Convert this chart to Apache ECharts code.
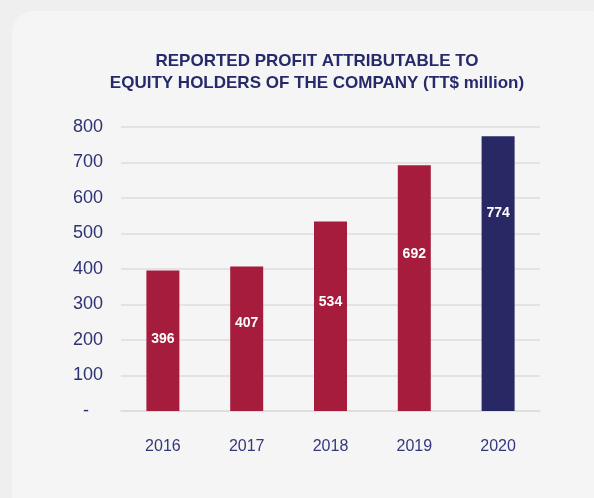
<!DOCTYPE html>
<html>
<head>
<meta charset="utf-8">
<script src="https://cdn.jsdelivr.net/npm/echarts@6/dist/echarts.min.js"></script>
<style>
  html, body { margin: 0; padding: 0; background: #efefef; }
  #card { position: absolute; left: 12px; top: 11px; width: 600px; height: 520px; background: #f5f5f5; border-radius: 22px; }
  #main { position: absolute; left: 0; top: 0; width: 594px; height: 498px; }
</style>
</head>
<body>
<div id="card"></div>
<div id="main"></div>
<script>
var years = ['2016', '2017', '2018', '2019', '2020'];
var profit = [396, 407, 534, 692, 774];
var barColors = ['#a61c3d', '#a61c3d', '#a61c3d', '#a61c3d', '#272864'];
// where the value labels sit inside each bar (px, relative to bar centre)
var labelShift = [-2, -16, -14, -34, -60];

var myChart = echarts.init(document.getElementById('main'));

var option = {
    backgroundColor: 'transparent',
    title: {
        text: 'REPORTED PROFIT ATTRIBUTABLE TO\nEQUITY HOLDERS OF THE COMPANY (TT$ million)',
        left: 312,
        textAlign: 'center',
        top: 45,
        textStyle: {
            fontFamily: 'Liberation Sans',
            fontSize: 17,
            fontWeight: 'bold',
            color: '#262a6a',
            lineHeight: 22
        }
    },
    grid: { left: 121, right: 54, top: 127, bottom: 87 },
    xAxis: {
        type: 'category',
        data: years,
        axisTick: { show: false },
        axisLine: { lineStyle: { color: '#dcdcdc', width: 1.5 } },
        axisLabel: {
            margin: 28,
            fontFamily: 'Liberation Sans',
            fontSize: 16,
            color: '#34377a'
        }
    },
    yAxis: {
        type: 'value',
        min: 0,
        max: 800,
        interval: 100,
        axisLine: { show: false },
        axisTick: { show: false },
        splitLine: { lineStyle: { color: '#dcdcdc', width: 1.5 } },
        axisLabel: {
            margin: 18,
            fontFamily: 'Liberation Sans',
            fontSize: 18,
            color: '#2e3272',
            formatter: function (v) { return v === 0 ? '{d|-}' : String(v); },
            rich: {
                d: { fontFamily: 'Liberation Sans', fontSize: 18, color: '#2e3272', padding: [0, 14, 0, 0] }
            }
        }
    },
    series: [{
        type: 'bar',
        barWidth: 33,
        data: profit.map(function (v, i) {
            return {
                value: v,
                itemStyle: { color: barColors[i] },
                label: { offset: [0, labelShift[i]] }
            };
        }),
        label: {
            show: true,
            position: 'inside',
            fontFamily: 'Liberation Sans',
            fontSize: 14,
            fontWeight: 'bold',
            color: '#ffffff'
        }
    }]
};

myChart.setOption(option);
</script>
</body>
</html>
